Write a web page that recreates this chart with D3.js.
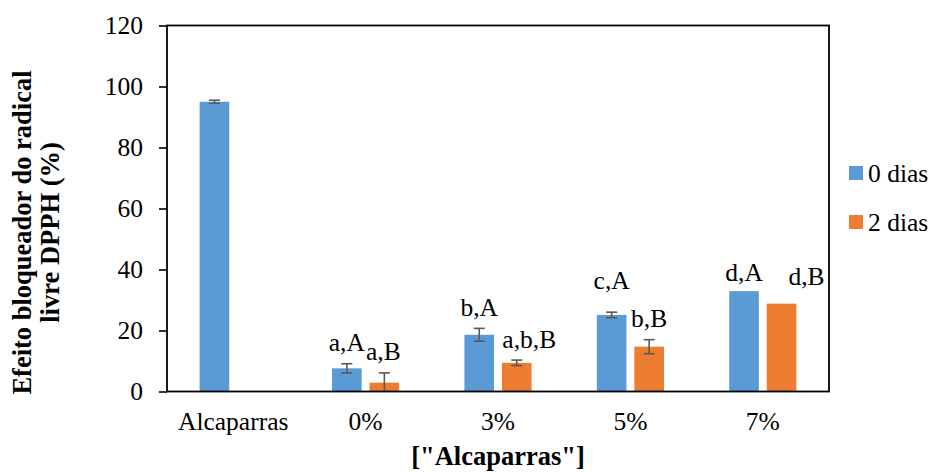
<!DOCTYPE html>
<html><head><meta charset="utf-8">
<script src="https://cdn.jsdelivr.net/npm/d3@7"></script>
<style>
body{margin:0;background:#fff}
svg text{font-family:"Liberation Serif","Times New Roman",serif;fill:#000}
</style>
</head><body><svg id="c" width="933" height="472"></svg>
<script>
const categories = ["Alcaparras", "0%", "3%", "5%", "7%"];
const seriesNames = ["0 dias", "2 dias"];
const values0 = [95.0, 7.6, 18.6, 25.1, 32.9];
const errors0 = [0.5, 1.5, 2.1, 0.9, 0];
const labels0 = ["", "a,A", "b,A", "c,A", "d,A"];
const values2 = [null, 2.9, 9.4, 14.7, 28.8];
const errors2 = [null, 3.2, 0.9, 2.3, 0];
const labels2 = ["", "a,B", "a,b,B", "b,B", "d,B"];
const yTicks = [0, 20, 40, 60, 80, 100, 120];
const yTitleLines = ["Efeito bloqueador do radical", "livre DPPH (%)"];
const xTitle = "[\"Alcaparras\"]";

const colors = ["#5B9BD5", "#ED7D31"];
const FS = 25.5, FSB = 26.5;
const svg = d3.select("#c");
const L = 167, R = 829, T = 25.5, B = 391.5;

const x0 = d3.scaleBand().domain(categories).range([L, R]).padding(0);
const x1 = d3.scaleBand().domain(seriesNames).range([0, x0.bandwidth()]).paddingInner(0.21).paddingOuter(0.87);
const y = d3.scaleLinear().domain([0, 120]).range([B, T]);

const series = [
  {name: seriesNames[0], values: values0, errors: errors0, labels: labels0, color: colors[0],
   nudge: [[0,0],[0,0],[0,0],[0,-10.5],[0,2]]},
  {name: seriesNames[1], values: values2, errors: errors2, labels: labels2, color: colors[1],
   nudge: [[0,0],[-1,0],[12.5,0],[0,0],[25,-6]]}
];

// bars
series.forEach(s => {
  const g = svg.append("g");
  categories.forEach((c, i) => {
    const v = s.values[i];
    if (v == null) return;
    g.append("rect")
      .attr("x", x0(c) + x1(s.name))
      .attr("y", y(v))
      .attr("width", x1.bandwidth())
      .attr("height", y(0) - y(v))
      .attr("fill", s.color);
  });
});

// error bars
series.forEach(s => {
  const g = svg.append("g").attr("stroke", "#595959").attr("stroke-width", 1.6);
  categories.forEach((c, i) => {
    const v = s.values[i], e = s.errors[i];
    if (v == null || !e) return;
    const cx = x0(c) + x1(s.name) + x1.bandwidth() / 2;
    const lo = Math.min(y(v - e), B);
    g.append("line").attr("x1", cx).attr("x2", cx).attr("y1", y(v + e)).attr("y2", lo);
    g.append("line").attr("x1", cx - 5.5).attr("x2", cx + 5.5).attr("y1", y(v + e)).attr("y2", y(v + e));
    if (y(v - e) <= B) g.append("line").attr("x1", cx - 5.5).attr("x2", cx + 5.5).attr("y1", y(v - e)).attr("y2", y(v - e));
  });
});

// data labels
series.forEach(s => {
  categories.forEach((c, i) => {
    const v = s.values[i], t = s.labels[i];
    if (v == null || !t) return;
    const cx = x0(c) + x1(s.name) + x1.bandwidth() / 2;
    const top = y(v + (s.errors[i] || 0));
    svg.append("text")
      .attr("x", cx + s.nudge[i][0])
      .attr("y", top - 12.5 + s.nudge[i][1])
      .attr("text-anchor", "middle")
      .attr("font-size", FS)
      .text(t);
  });
});

// frame
svg.append("rect").attr("x", L).attr("y", T).attr("width", R - L).attr("height", B - T)
  .attr("fill", "none").attr("stroke", "#000").attr("stroke-width", 1.8);

// y axis
const yAxis = svg.append("g").attr("transform", `translate(${L},0)`)
  .call(d3.axisLeft(y).tickValues(yTicks).tickSize(8).tickPadding(16));
yAxis.select(".domain").remove();
yAxis.selectAll(".tick line").attr("stroke", "#000").attr("stroke-width", 1.6);
yAxis.selectAll(".tick text").attr("font-size", FS).attr("fill", "#000");

// x labels
svg.append("g").selectAll("text").data(categories).join("text")
  .attr("x", d => x0(d) + x0.bandwidth() / 2)
  .attr("y", 430)
  .attr("text-anchor", "middle")
  .attr("font-size", FS)
  .text(d => d);

// x title
svg.append("text").attr("x", (L + R) / 2).attr("y", 465)
  .attr("text-anchor", "middle").attr("font-size", FSB).attr("font-weight", "bold").text(xTitle);

// y title
yTitleLines.forEach((t, k) => {
  svg.append("text")
    .attr("transform", `translate(${31 + k * 27.5},232.5) rotate(-90)`)
    .attr("text-anchor", "middle").attr("font-size", FSB).attr("font-weight", "bold").text(t);
});

// legend
seriesNames.forEach((n, k) => {
  const ly = 166 + k * 49;
  svg.append("rect").attr("x", 849).attr("y", ly).attr("width", 14).attr("height", 14).attr("fill", colors[k]);
  svg.append("text").attr("x", 868).attr("y", ly + 15.5).attr("font-size", FS).text(n);
});
</script>
</body></html>
